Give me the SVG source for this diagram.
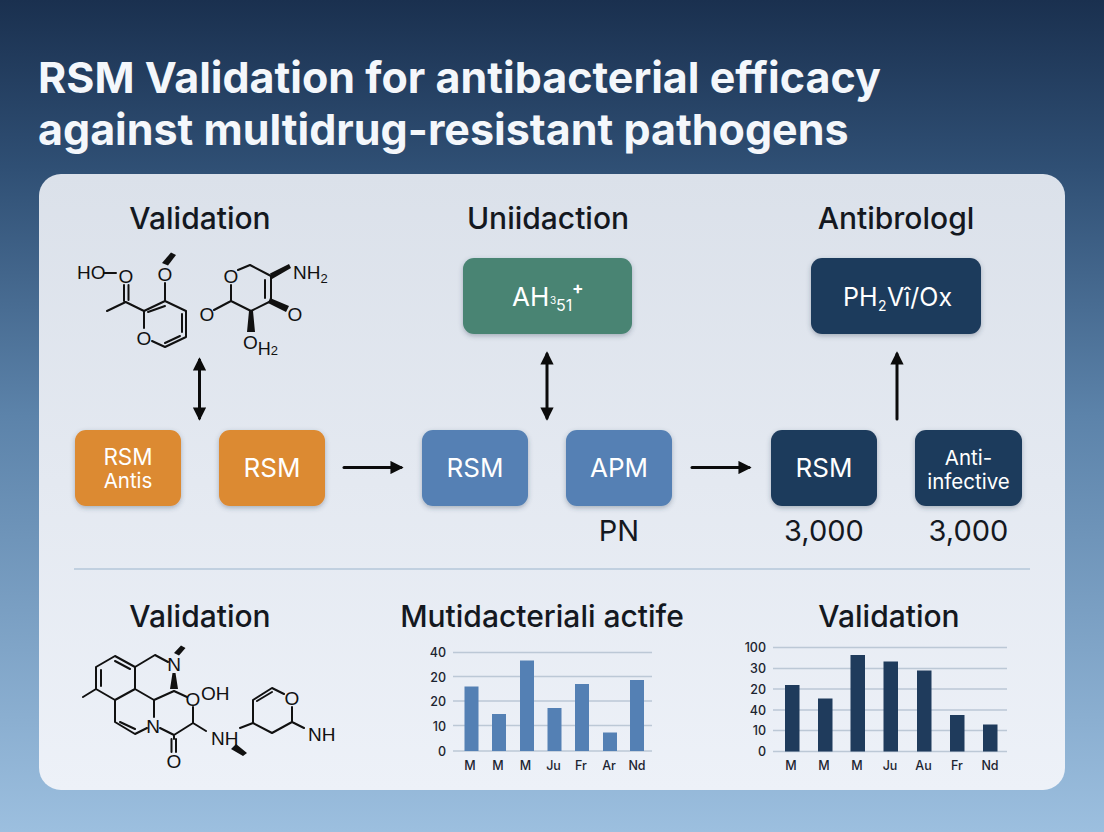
<svg xmlns="http://www.w3.org/2000/svg" width="1104" height="832" viewBox="0 0 1104 832">
<style>
text{font-family:Inter,"Liberation Sans",Arial,sans-serif}
.title{font-size:43px;font-weight:700;fill:#f4f7fb}
.h{font-size:30px;font-weight:500;fill:#14181f;text-anchor:middle}
.n{fill:#fff;text-anchor:middle;font-size:26px}
.s{fill:#fff;text-anchor:middle;font-size:20.500px}
.v{font-size:29px;fill:#14181f;text-anchor:middle}
.b{stroke:#111;stroke-width:2;fill:none;stroke-linecap:round;stroke-linejoin:round}
.w{fill:#111}
.a{font-family:"Liberation Sans",Arial,sans-serif;font-size:19px;fill:#111}
.ac{font-family:"Liberation Sans",Arial,sans-serif;font-size:19px;fill:#111;text-anchor:middle}
.grid{stroke:#bcc8d6;stroke-width:1.3}
.yl{font-size:12.500px;font-weight:500;fill:#1c2430;text-anchor:end}
.xl{font-size:12.500px;font-weight:500;fill:#1c2430;text-anchor:middle}
.c{stroke:#0b0b0b;stroke-width:3;fill:none;stroke-linecap:round}
.or{fill:#dc8a31}.bl{fill:#5480b4}.nv{fill:#1f3b5c}.gr{fill:#488473}
</style>
<defs>
<linearGradient id="bg" x1="0" y1="0" x2="0" y2="1">
<stop offset="0" stop-color="#1a304f"/><stop offset="0.2" stop-color="#2f4f74"/><stop offset="0.5" stop-color="#5c83aa"/><stop offset="1" stop-color="#9cbfdf"/>
</linearGradient>
<linearGradient id="panel" x1="0" y1="0" x2="0" y2="1">
<stop offset="0" stop-color="#dbe1ea"/><stop offset="1" stop-color="#edf1f8"/>
</linearGradient>
<filter id="sh" x="-20%" y="-20%" width="140%" height="150%"><feDropShadow dx="0" dy="2" stdDeviation="2.500" flood-color="#33415a" flood-opacity="0.35"/></filter>
<marker id="ah" viewBox="0 0 10 10" refX="8" refY="5" markerWidth="4.400" markerHeight="4.400" orient="auto-start-reverse" markerUnits="strokeWidth"><path d="M0 0L10 5L0 10Z" fill="#0b0b0b"/></marker>
</defs>
<rect width="1104" height="832" fill="url(#bg)"/>
<g id="title">
<text class="title" x="38" y="93">RSM Validation for antibacterial efficacy</text>
<text class="title" x="38" y="145">against multidrug-resistant pathogens</text>
</g>
<rect id="panel-bg" x="39" y="174" width="1026" height="616" rx="22" fill="url(#panel)"/>
<g id="headings">
<text class="h" x="200" y="229">Validation</text>
<text class="h" x="548" y="229">Uniidaction</text>
<text class="h" x="896" y="229">Antibrologl</text>
<text class="h" x="200" y="627">Validation</text>
<text class="h" x="542" y="627">Mutidacteriali actife</text>
<text class="h" x="889" y="627">Validation</text>
</g>
<line id="divider" x1="74" y1="569" x2="1030" y2="569" stroke="#b4c7da" stroke-width="1.500"/>
<g id="molecule-a">
<path class="b" d="M104 273H116M124 285V301M128.500 285V300M125.700 302L107 311M125.700 302L144 311L165 301L186 311V337L165 347L152 341M144 311V328M148 312L165 306M182 314V332M180 336L165 343M165 283V301"/>
<path class="w" d="M162 263L168 265.500L176 255L171 252.500Z"/>
<text class="a" x="77" y="279">HO</text><text class="ac" x="126" y="283">O</text><text class="ac" x="165" y="281">O</text><text class="ac" x="144" y="345">O</text>
<path class="b" d="M238 270L250 265L271 276V301L251 311L231 301V285M265 280V298M231 301L214 310"/>
<path class="w" d="M270 273.500L272 279L291 268L289 264ZM270 298L268 303L286 312L289 306ZM249 311H253L255 332H247Z"/>
<text class="a" x="293" y="279">NH<tspan font-size="13" dy="4">2</tspan></text><text class="ac" x="231" y="283">O</text><text class="ac" x="207" y="321">O</text><text class="ac" x="295" y="321">O</text><text class="a" x="243" y="349">O<tspan font-size="18" dy="6">H</tspan><tspan font-size="13">2</tspan></text>
</g>
<g id="molecule-b">
<path class="b" d="M83 697L96 689V667L115 656L135 667V689L115 700L96 689M101 670V686M115 661L130 669M115 700V722L135 734L147 728M120 722L135 729M135 689L154 700V717M135 667L155 655L168 662M174 691L154 700M174 691L187 697M193 707V723L174 735L160 728M193 723L206 731M171.500 739V752M176 739V752M174 735V739M240 728L253 723V700L272 688L284 694M257 701L272 692M253 723L272 733L292 722V707M292 722L304 728"/>
<path class="w" d="M172.500 673H175.500L178 689H170ZM174 653L179 655.500L185.500 648L181 645.500ZM231 749L236 744L247 753L243 756Z"/>
<text class="ac" x="174" y="671">N</text><text class="ac" x="153" y="733">N</text><text class="ac" x="193" y="706">O</text><text class="a" x="201" y="700">OH</text><text class="ac" x="174" y="768">O</text><text class="a" x="211" y="745">NH</text><text class="ac" x="292" y="705">O</text><text class="a" x="308" y="741">NH</text>
</g>
<g id="node-rsm-antis"><rect class="or" x="75" y="430" width="106" height="76" rx="11" filter="url(#sh)"/><text class="s" x="128" y="465" style="font-size:22.500px">RSM</text><text class="s" x="128" y="488" style="font-size:20.500px">Antis</text></g>
<g id="node-rsm-orange"><rect class="or" x="219" y="430" width="106" height="76" rx="11" filter="url(#sh)"/><text class="n" x="272" y="477">RSM</text></g>
<g id="node-rsm-blue"><rect class="bl" x="422" y="430" width="106" height="76" rx="11" filter="url(#sh)"/><text class="n" x="475" y="477">RSM</text></g>
<g id="node-apm"><rect class="bl" x="566" y="430" width="106" height="76" rx="11" filter="url(#sh)"/><text class="n" x="619" y="477">APM</text><text class="v" x="619" y="541">PN</text></g>
<g id="node-rsm-navy"><rect class="nv" x="771" y="430" width="106" height="76" rx="11" filter="url(#sh)"/><text class="n" x="824" y="477">RSM</text><text class="v" x="824" y="541">3,000</text></g>
<g id="node-anti"><rect class="nv" x="915" y="430" width="107" height="76" rx="11" filter="url(#sh)"/><text class="s" x="968.500" y="465">Anti-</text><text class="s" x="968.500" y="489">infective</text><text class="v" x="968.500" y="541">3,000</text></g>
<g id="node-ah"><rect class="gr" x="463" y="258" width="169" height="76" rx="11" filter="url(#sh)"/><text x="512" y="306" fill="#fff" font-size="26">AH</text><text x="550" y="304" fill="#fff" font-size="10">3</text><text x="556" y="311" fill="#fff" font-size="16">51</text><text x="572" y="294" fill="#fff" font-size="17" font-weight="700">+</text></g>
<g id="node-ph"><rect class="nv" x="811" y="258" width="170" height="76" rx="11" filter="url(#sh)"/><text x="843" y="306" fill="#fff" font-size="25">PH</text><text x="878" y="311" fill="#fff" font-size="14">2</text><text x="887" y="306" fill="#fff" font-size="25">Vî/Ox</text></g>
<g id="connectors">
<line class="c" x1="199.500" y1="360" x2="199.500" y2="418" marker-start="url(#ah)" marker-end="url(#ah)"/>
<line class="c" x1="547" y1="354" x2="547" y2="418" marker-start="url(#ah)" marker-end="url(#ah)"/>
<line class="c" x1="897" y1="419" x2="897" y2="354" marker-end="url(#ah)"/>
<line class="c" x1="344" y1="467.500" x2="401" y2="467.500" marker-end="url(#ah)"/>
<line class="c" x1="692" y1="467.500" x2="749" y2="467.500" marker-end="url(#ah)"/>
</g>
<g id="chart-a">
<path class="grid" d="M453 652.500H652M453 676.500H652M453 701H652M453 725.500H652M453 751H652"/>
<g class="bl"><rect x="464.500" y="686.500" width="14" height="64.500"/><rect x="492" y="714" width="14" height="37"/><rect x="520" y="660.500" width="14" height="90.500"/><rect x="547.500" y="708" width="14" height="43"/><rect x="575" y="684" width="14" height="67"/><rect x="603" y="732.500" width="14" height="18.500"/><rect x="630" y="680" width="14" height="71"/></g>
<g class="yl"><text x="446" y="657">40</text><text x="446" y="682">20</text><text x="446" y="706">20</text><text x="446" y="731">10</text><text x="446" y="756">0</text></g>
<g class="xl"><text x="470" y="770">M</text><text x="498" y="770">M</text><text x="525.500" y="770">M</text><text x="553.500" y="770">Ju</text><text x="581" y="770">Fr</text><text x="609" y="770">Ar</text><text x="637" y="770">Nd</text></g>
</g>
<g id="chart-b">
<path class="grid" d="M773 647.500H1007M773 668.500H1007M773 689H1007M773 710H1007M773 730.500H1007M773 751.500H1007"/>
<g class="nv"><rect x="785" y="685" width="14.500" height="66.500"/><rect x="818" y="698.500" width="14.500" height="53"/><rect x="850.500" y="655" width="14.500" height="96.500"/><rect x="883.500" y="661.500" width="14.500" height="90"/><rect x="917" y="670.500" width="14.500" height="81"/><rect x="950" y="715" width="14.500" height="36.500"/><rect x="983" y="724.500" width="14.500" height="27"/></g>
<g class="yl"><text x="766" y="652">100</text><text x="766" y="673">30</text><text x="766" y="694">20</text><text x="766" y="715">40</text><text x="766" y="735">10</text><text x="766" y="756">0</text></g>
<g class="xl"><text x="791" y="770">M</text><text x="824" y="770">M</text><text x="857" y="770">M</text><text x="890" y="770">Ju</text><text x="923.500" y="770">Au</text><text x="957" y="770">Fr</text><text x="990" y="770">Nd</text></g>
</g>
</svg>
